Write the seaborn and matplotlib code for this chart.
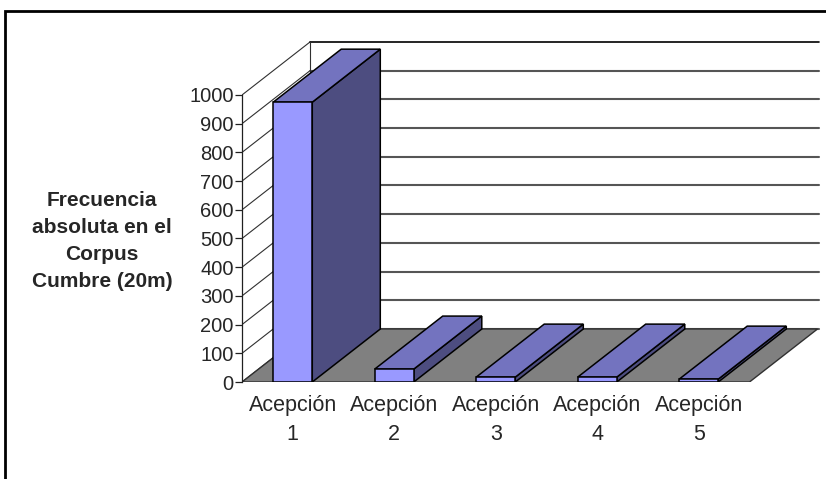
import numpy as np
import matplotlib
matplotlib.use('Agg')
import matplotlib.pyplot as plt
from matplotlib.patches import Polygon, Rectangle
import seaborn as sns

# datos del gráfico
categorias = ['Acepción\n1', 'Acepción\n2', 'Acepción\n3', 'Acepción\n4', 'Acepción\n5']
frecuencias = [975, 45, 17, 17, 10]
ticks_y = list(range(0, 1001, 100))
etiqueta_y = 'Frecuencia\nabsoluta en el\nCorpus\nCumbre (20m)'

# colores tipo Excel 3D
c_frente = '#9999FF'
c_tapa = '#7373BF'
c_lado = '#4D4D80'
c_suelo = '#808080'

sns.set_style('white')
plt.rcParams['font.family'] = ['Liberation Sans', 'DejaVu Sans']

W, H = 826, 479
fig = plt.figure(figsize=(W / 100, H / 100), dpi=100)

# ejes en píxeles: eje frontal x=242, suelo y=382
px_cat = 101.5   # px por categoría
px_val = 0.287   # px por unidad
x0_px, y0_px, top_px = 242, 382, 30
ax = fig.add_axes([x0_px / W, (H - y0_px) / H, (W - x0_px) / W, (y0_px - top_px) / H])

sns.barplot(x=categorias, y=frecuencias, color=c_frente, saturation=1,
            width=0.385, edgecolor='black', linewidth=1.1, ax=ax)

xmin = -0.5
xmax = xmin + (W - x0_px) / px_cat
ax.set_xlim(xmin, xmax)
ax.set_ylim(0, (y0_px - top_px) / px_val)

# profundidad 3D
ddx = 68 / px_cat
ddy = 53 / px_val
x_fin = xmin + (819 - x0_px) / px_cat

# paredes
for v in ticks_y:
    ax.plot([xmin, xmin + ddx], [v, v + ddy], color='#303030', lw=0.8, zorder=0.5)
    ax.plot([xmin + ddx, x_fin], [v + ddy, v + ddy],
            color='black' if v == 1000 else '#555555', lw=1.2 if v == 1000 else 1.5, zorder=0.5)
ax.plot([xmin + ddx, xmin + ddx], [ddy, 1000 + ddy], color='#303030', lw=0.8, zorder=0.5)

# suelo
n = len(frecuencias)
suelo = Polygon([(xmin, 0), (xmin + n, 0), (xmin + n + ddx, ddy), (xmin + ddx, ddy)],
                closed=True, facecolor=c_suelo, edgecolor='#303030', lw=1.0, zorder=1)
ax.add_patch(suelo)

# caras superior y lateral de cada barra
for i, p in enumerate(ax.patches[:n]):
    bx, bw, bh = p.get_x(), p.get_width(), p.get_height()
    z = 3 + i
    p.set_zorder(z + 0.5)
    lado = Polygon([(bx + bw, 0), (bx + bw, bh), (bx + bw + ddx, bh + ddy), (bx + bw + ddx, ddy)],
                   closed=True, facecolor=c_lado, edgecolor='black', lw=1.1, zorder=z)
    tapa = Polygon([(bx, bh), (bx + bw, bh), (bx + bw + ddx, bh + ddy), (bx + ddx, bh + ddy)],
                   closed=True, facecolor=c_tapa, edgecolor='black', lw=1.1, zorder=z)
    ax.add_patch(lado)
    ax.add_patch(tapa)

# ejes y etiquetas
for s in ['top', 'right', 'bottom']:
    ax.spines[s].set_visible(False)
ax.spines['left'].set_bounds(0, 1000)
ax.spines['left'].set_color('#202020')
ax.spines['left'].set_linewidth(0.9)
ax.spines['left'].set_zorder(2)
ax.set_yticks(ticks_y)
ax.set_yticklabels([str(t) for t in ticks_y])
ax.tick_params(axis='y', direction='out', length=5, width=0.9, color='#202020', pad=1, labelsize=14.5, left=True)
ax.tick_params(axis='x', length=0, pad=9, labelsize=15.5)
for lab in ax.get_xticklabels():
    lab.set_linespacing(1.5)
ax.set_xlabel('')
ax.set_ylabel('')
ax.grid(False)

fig.text(102 / W, 1 - 241 / H, etiqueta_y, ha='center', va='center', multialignment='center',
         fontsize=15, fontweight='bold', linespacing=1.55)

# marco del gráfico
fig.patches.append(Rectangle((4.5 / W, -0.2), 1.5, (H - 10.5) / H + 0.2, transform=fig.transFigure,
                             fill=False, edgecolor='black', lw=2, zorder=10))

fig.savefig('out.png', dpi=100, facecolor='white')
